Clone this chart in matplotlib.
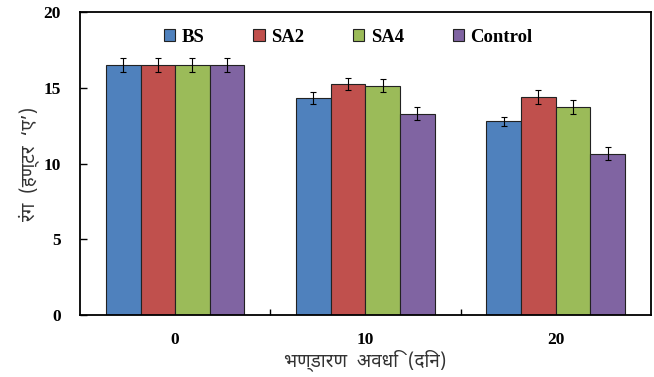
import numpy as np
import matplotlib
matplotlib.use("Agg")
import matplotlib.pyplot as plt

# storage period (days) and colour readings
days = ["0", "10", "20"]
series = ["BS", "SA2", "SA4", "Control"]
bs = [16.5, 14.35, 12.8]
sa2 = [16.5, 15.25, 14.4]
sa4 = [16.5, 15.15, 13.75]
control = [16.5, 13.3, 10.65]
bs_err = [0.45, 0.4, 0.3]
sa2_err = [0.45, 0.4, 0.45]
sa4_err = [0.45, 0.4, 0.45]
control_err = [0.45, 0.43, 0.42]

colors = ["#4F81BD", "#C0504D", "#9BBB59", "#8064A2"]

hindi = ["Noto Sans Devanagari", "DejaVu Sans"]
serif = "Liberation Serif"

fig = plt.figure(figsize=(6.54, 3.77), dpi=100)
ax = fig.add_axes([0.1223, 0.1645, 0.873, 0.8035])

x = np.arange(len(days))
w = 0.182
vals = [bs, sa2, sa4, control]
errs = [bs_err, sa2_err, sa4_err, control_err]
for i in range(4):
    ax.bar(x + (i - 1.5) * w, vals[i], w, color=colors[i], edgecolor="#222222",
           linewidth=0.8, label=series[i], yerr=errs[i],
           error_kw=dict(ecolor="black", elinewidth=0.8, capsize=2.5, capthick=0.8))

ax.set_xlim(-0.5, 2.5)
ax.set_ylim(0, 20)
ax.set_yticks([0, 5, 10, 15, 20])
ax.set_xticks(x)
ax.set_xticklabels(days)
ax.set_xticks([0.5, 1.5], minor=True)
ax.tick_params(axis="x", which="major", length=0, pad=12)
ax.tick_params(axis="x", which="minor", direction="in", length=4, width=1)
ax.tick_params(axis="y", direction="in", length=5, width=1, pad=14)
for lab in ax.get_xticklabels() + ax.get_yticklabels():
    lab.set_fontfamily(serif)
    lab.set_fontweight("bold")
    lab.set_fontsize(12.5)
for s in ax.spines.values():
    s.set_linewidth(1.3)

ax.set_ylabel("रंग  (हण्टर  ‘ए’)", fontfamily=hindi, fontsize=13.5, color="#333333", labelpad=2)
ax.set_xlabel("भण्डारण  अवधि  (दिन)", fontfamily=hindi, fontsize=13.5, color="#333333", labelpad=1)

ax.legend(loc="upper center", bbox_to_anchor=(0.47, 1.0), ncol=4, frameon=False,
          prop=dict(family=serif, weight="bold", size=13.5),
          handlelength=0.6, handleheight=0.6, handletextpad=0.35, columnspacing=2.6)

fig.savefig("out.png", dpi=100)
